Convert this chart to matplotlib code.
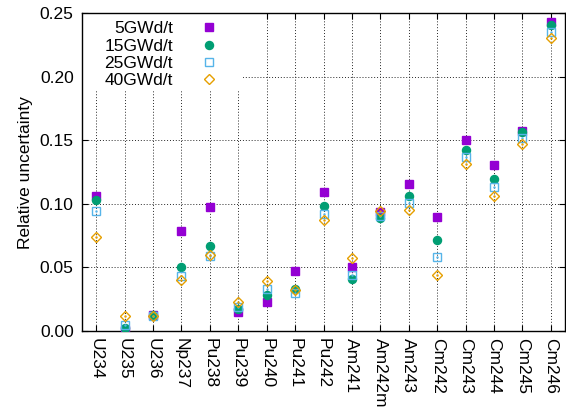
import matplotlib
matplotlib.use("Agg")
import matplotlib.pyplot as plt
from matplotlib.patches import Rectangle
import numpy as np

plt.rcParams['font.family'] = ['Liberation Sans', 'DejaVu Sans']

nuclides = ["U234", "U235", "U236", "Np237", "Pu238", "Pu239", "Pu240", "Pu241",
            "Pu242", "Am241", "Am242m", "Am243", "Cm242", "Cm243", "Cm244", "Cm245", "Cm246"]

unc_5 = [0.106, 0.0005, 0.0123, 0.0785, 0.0974, 0.0149, 0.0228, 0.0471,
         0.1092, 0.0503, 0.0935, 0.1160, 0.0895, 0.1505, 0.1304, 0.1570, 0.2435]
unc_15 = [0.1034, 0.002, 0.0123, 0.0503, 0.0668, 0.0170, 0.0283, 0.0332,
          0.0982, 0.0406, 0.0890, 0.1065, 0.0717, 0.1421, 0.1199, 0.1563, 0.2406]
unc_25 = [0.0948, 0.005, 0.0120, 0.0432, 0.0589, 0.0190, 0.0332, 0.0301,
          0.0924, 0.0440, 0.0908, 0.1008, 0.0584, 0.1366, 0.1134, 0.1518, 0.2356]
unc_40 = [0.0738, 0.0118, 0.0120, 0.0398, 0.0599, 0.0230, 0.0393, 0.0319,
          0.0872, 0.0576, 0.0942, 0.0950, 0.0437, 0.1314, 0.1065, 0.1471, 0.2309]

labels = ["5GWd/t", "15GWd/t", "25GWd/t", "40GWd/t"]
yticks = [0.00, 0.05, 0.10, 0.15, 0.20, 0.25]

FS = 12.5

fig = plt.figure(figsize=(5.66, 4.12), dpi=100)
ax = fig.add_axes([82 / 566, 1 - 331 / 412, (565 - 82) / 566, (331 - 13.3) / 412])

x = np.arange(len(nuclides))

ax.plot(x, unc_5, ls='none', marker='s', ms=5.8, color='#9400D3', mec='#9400D3',
        label=labels[0], zorder=3)
ax.plot(x, unc_15, ls='none', marker='o', ms=5.8, color='#009E73', mec='#009E73',
        label=labels[1], zorder=3)
ax.plot(x, unc_25, ls='none', marker='s', ms=6, mfc='none', mec='#56B4E9', mew=1.0,
        label=labels[2], zorder=3)
ax.plot(x, unc_25, ls='none', marker='.', ms=1.5, color='#56B4E9', zorder=3)
ax.plot(x, unc_40, ls='none', marker='D', ms=4.6, mfc='none', mec='#E69F00', mew=1.0,
        label=labels[3], zorder=3)
ax.plot(x, unc_40, ls='none', marker='.', ms=1.5, color='#E69F00', zorder=3)

ax.set_xlim(-0.5, len(nuclides) - 0.5)
ax.set_ylim(0, 0.25)
ax.set_yticks(yticks)
ax.set_yticklabels([f"{v:.2f}" for v in yticks], fontsize=FS)
ax.set_xticks(x)
ax.set_xticklabels(nuclides, rotation=-90, fontsize=FS, va='top', ha='center')
ax.set_ylabel("Relative uncertainty", fontsize=FS)
ax.yaxis.set_label_coords(-0.101, 0.5)

ax.grid(True, color='0.15', linestyle=(0, (1, 2)), linewidth=0.7, zorder=0)
ax.set_axisbelow(True)
ax.tick_params(direction='in', top=True, right=True, length=4, width=0.8)
ax.tick_params(axis='y', pad=6)
ax.tick_params(axis='x', pad=5)
for s in ax.spines.values():
    s.set_linewidth(1.0)

# white backdrop for the key, hiding the grid behind it
ax.add_patch(Rectangle((0, 1 - (90 - 13.3) / 317.7), (243 - 82) / 483, (90 - 13.3) / 317.7,
                       transform=ax.transAxes, facecolor='white', edgecolor='none',
                       zorder=1))

leg = ax.legend(loc='upper right', bbox_to_anchor=((235 - 82) / 483, 0.975),
                markerfirst=False, fontsize=FS, frameon=False,
                handlelength=3.0, handletextpad=0.57, labelspacing=0.12,
                borderpad=0.0, borderaxespad=0.0)
leg.set_zorder(5)

fig.savefig("out.png", dpi=100)
